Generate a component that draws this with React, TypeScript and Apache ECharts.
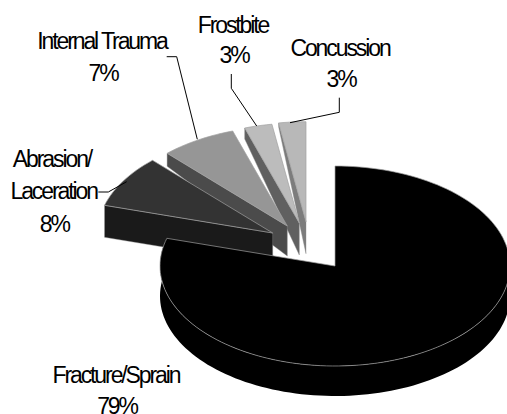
import React, { useEffect, useRef } from "react";
import * as echarts from "echarts";

const categories = ["Fracture/Sprain", "Abrasion/Laceration", "Internal Trauma", "Frostbite", "Concussion"];
const values = [79.49, 8.49, 7.0, 2.55, 2.5];
const labelLines = [["Fracture/Sprain", "79%"], ["Abrasion/", "Laceration", "8%"], ["Internal Trauma", "7%"], ["Frostbite", "3%"], ["Concussion", "3%"]];

const topColors = ["#000000", "#333333", "#969696", "#bcbcbc", "#b8b8b8"];
const wallColors = ["#000000", "#1a1a1a", "#4b4b4b", "#606060", "#7c7c7c"];
const apexes = [[335, 266], [272.7, 233], [287.3, 226], [299.3, 223], [306, 221.7]];
const outerDepths = [30, 32, 13, 11, 4];
const apexDepths = [30, 32, 30, 32, 32];
const labelX = [[116, 117], [52, 53.7, 54.3], [102, 103], [233, 234], [340, 341]];
const labelBaseline = [[382.7, 414], [166.7, 199.3, 231.7], [49, 80.7], [32.5, 63.3], [56, 87]];
const leaders: number[][][] = [
  [],
  [[98.3, 192], [108.3, 192], [126.7, 181.7]],
  [[166.7, 56.7], [176.7, 56.7], [197.3, 139.3]],
  [[231.3, 74], [231.3, 88.3], [256.7, 126]],
  [[339.3, 97.7], [339.3, 112.3], [290, 122.7]],
];
const RX = 175;
const RY = 100;
const total = values.reduce((a, b) => a + b, 0);

function arcPoints(c: number[], from: number, to: number, dy = 0) {
  const pts: number[][] = [];
  const n = Math.max(2, Math.ceil((to - from) / 2));
  for (let i = 0; i <= n; i++) {
    const a = ((from + ((to - from) * i) / n) * Math.PI) / 180;
    pts.push([c[0] + RX * Math.sin(a), c[1] - RY * Math.cos(a) + dy]);
  }
  return pts;
}

export default function App() {
  const ref = useRef<HTMLDivElement>(null);
  useEffect(() => {
    const chart = echarts.init(ref.current!, undefined, { renderer: "svg" });
    let acc = 0;
    const spans = values.map((v) => {
      const s = { from: acc, to: acc + (v / total) * 360 };
      acc = s.to;
      return s;
    });
    const order = [4, 3, 2, 1, 0];
    chart.setOption({
      animation: false,
      backgroundColor: "#ffffff",
      series: [
        {
          type: "custom",
          coordinateSystem: "none",
          silent: true,
          data: order.map((i) => ({ name: categories[i], value: values[i] })),
          clip: false,
          renderItem: (params: any) => {
            const i = order[params.dataIndex];
            const { from, to } = spans[i];
            const c = apexes[i];
            const arc = arcPoints(c, from, to);
            const children: any[] = [];
            const edge = { stroke: "#a0a0a0", lineWidth: 0.7 };
            if (i === 0) {
              const visible = arcPoints(c, 90, to);
              const lower = arcPoints(c, 90, to, outerDepths[0]).reverse();
              children.push({ type: "polygon", shape: { points: [...visible, ...lower] }, style: { fill: wallColors[0] } });
            } else {
              const o = arc[0];
              children.push({
                type: "polygon",
                shape: { points: [o, c, [c[0], c[1] + apexDepths[i]], [o[0], o[1] + outerDepths[i]]] },
                style: { fill: wallColors[i], stroke: "#8c8c8c", lineWidth: 0.4 },
              });
            }
            children.push({ type: "polygon", shape: { points: [c, ...arc] }, style: { fill: topColors[i], ...edge } });
            if (leaders[i].length) {
              children.push({ type: "polyline", shape: { points: leaders[i] }, style: { fill: "none", stroke: "#000000", lineWidth: 1 } });
            }
            labelLines[i].forEach((t, k) => {
              children.push({
                type: "text",
                style: {
                  text: t,
                  x: labelX[i][k],
                  y: labelBaseline[i][k] - 8,
                  textAlign: "center",
                  textVerticalAlign: "middle",
                  font: '23px "Liberation Sans"',
                  fill: "#000000",
                },
              });
            });
            return { type: "group", children };
          },
        },
      ],
    });
    return () => chart.dispose();
  }, []);
  return (
    <div
      ref={ref}
      style={{ position: "fixed", left: 0, top: 0, width: 507, height: 414, letterSpacing: "-2.1px" }}
    />
  );
}
